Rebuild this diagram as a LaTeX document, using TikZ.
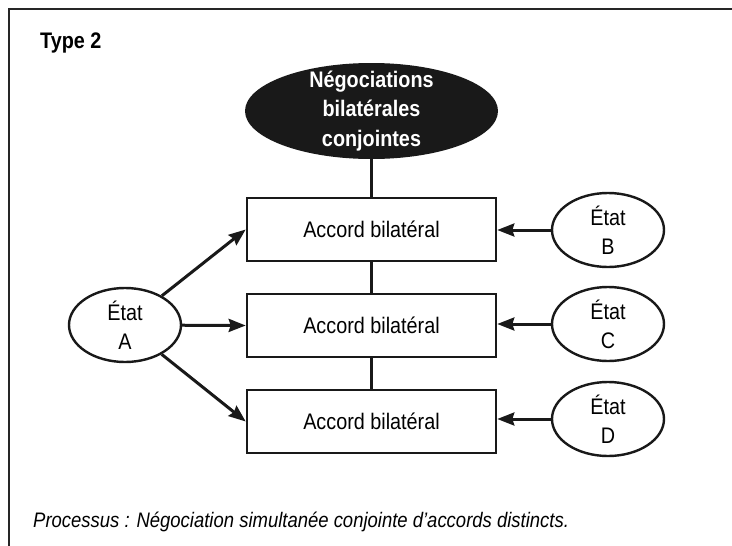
\documentclass[tikz,border=0pt]{standalone}
\usepackage{fontspec}
\setmainfont{Liberation Sans}[FakeStretch=0.88]
\usetikzlibrary{shapes.geometric,arrows.meta}
\begin{document}
\begin{tikzpicture}[x=1pt,y=-1pt,
  txt/.style={font=\fontsize{22.5}{29}\selectfont},
  accord/.style={draw=black!90, line width=2.6pt, minimum width=249pt, minimum height=63pt, inner sep=0pt, txt},
  etat/.style={ellipse, draw=black!90, line width=2.4pt, minimum width=112pt, minimum height=74pt, inner sep=0pt, align=center, txt},
  link/.style={line width=3pt, draw=black!90},
  arr/.style={link, -{Stealth[length=17pt,width=13pt,inset=2pt]}},
]
\useasboundingbox (0,0) rectangle (732,546);
% open frame: left and top rules only
\draw[line width=2.5pt, black!85] (9,546) -- (9,9) -- (732,9);
\node[anchor=base west, font=\bfseries\fontsize{22.5}{29}\selectfont, inner sep=0pt] (type) at (40,48) {Type 2};

% black ellipse with its white title
\node[ellipse, fill=black!90, minimum width=253pt, minimum height=96pt, inner sep=0pt] (neg) at (371.5,111) {};
\node[align=center, text=white, inner sep=0pt, font=\bfseries\fontsize{22.5}{29.5}\selectfont] (negtext) at (neg.center) {Négociations\\bilatérales\\conjointes};

% the three agreements
\node[accord] (b1) at (371.5,229.5) {Accord bilatéral};
\node[accord] (b2) at (371.5,325.5) {Accord bilatéral};
\node[accord] (b3) at (371.5,421.5) {Accord bilatéral};

% the states
\node[etat] (A) at (125,325) {État\\A};
\node[etat] (B) at (608,230) {État\\B};
\node[etat] (C) at (608,324) {État\\C};
\node[etat] (D) at (608,419) {État\\D};

% vertical chain
\draw[link] (neg.south) -- (b1.north);
\draw[link] (b1.south) -- (b2.north);
\draw[link] (b2.south) -- (b3.north);

% arrows
\draw[arr] (A) -- (b1.west);
\draw[arr] (A) -- (b2.west);
\draw[arr] (A) -- (b3.west);
\draw[arr] (B.west) -- (B.west -| b1.east);
\draw[arr] (C.west) -- (C.west -| b2.east);
\draw[arr] (D.west) -- (D.west -| b3.east);

\node[anchor=base west, inner sep=0pt, font=\itshape\fontsize{21}{25}\selectfont] (cap) at (33,527) {Processus : Négociation simultanée conjointe d’accords distincts.};
\end{tikzpicture}
\end{document}
